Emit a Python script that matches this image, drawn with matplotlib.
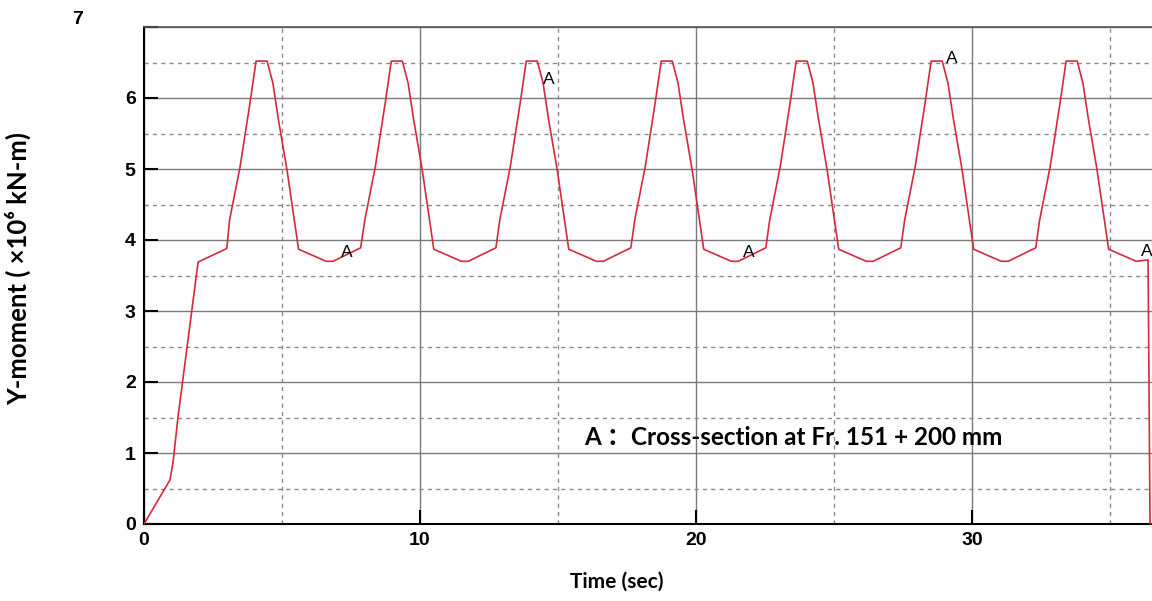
import matplotlib
matplotlib.use("Agg")
import matplotlib.pyplot as plt

# Time history of the Y-moment (x 10^6 kN-m) at the cross-section
time_sec = [
    0.00, 0.94, 1.05, 1.23, 1.96, 3.00,
    3.10, 3.48, 3.84, 4.06, 4.46, 4.67, 4.86, 5.18, 5.60, 6.60, 6.85, 7.85,
    8.00, 8.38, 8.74, 8.96, 9.36, 9.57, 9.76, 10.08, 10.50, 11.50, 11.75, 12.75,
    12.89, 13.27, 13.63, 13.85, 14.25, 14.46, 14.65, 14.97, 15.39, 16.39, 16.64, 17.64,
    17.78, 18.16, 18.52, 18.74, 19.14, 19.35, 19.54, 19.86, 20.28, 21.28, 21.53, 22.53,
    22.67, 23.05, 23.41, 23.63, 24.03, 24.24, 24.43, 24.75, 25.17, 26.17, 26.42, 27.42,
    27.56, 27.94, 28.30, 28.52, 28.92, 29.13, 29.32, 29.64, 30.06, 31.06, 31.31, 32.31,
    32.45, 32.83, 33.19, 33.41, 33.81, 34.02, 34.21, 34.53, 34.95, 35.95, 36.38, 36.45,
]
y_moment = [
    0.00, 0.62, 0.86, 1.50, 3.69, 3.88,
    4.28, 5.03, 5.93, 6.52, 6.52, 6.21, 5.72, 4.99, 3.87, 3.70, 3.70, 3.89,
    4.28, 5.03, 5.93, 6.52, 6.52, 6.21, 5.72, 4.99, 3.87, 3.70, 3.70, 3.89,
    4.28, 5.03, 5.93, 6.52, 6.52, 6.21, 5.72, 4.99, 3.87, 3.70, 3.70, 3.89,
    4.28, 5.03, 5.93, 6.52, 6.52, 6.21, 5.72, 4.99, 3.87, 3.70, 3.70, 3.89,
    4.28, 5.03, 5.93, 6.52, 6.52, 6.21, 5.72, 4.99, 3.87, 3.70, 3.70, 3.89,
    4.28, 5.03, 5.93, 6.52, 6.52, 6.21, 5.72, 4.99, 3.87, 3.70, 3.70, 3.89,
    4.28, 5.03, 5.93, 6.52, 6.52, 6.21, 5.72, 4.99, 3.87, 3.70, 3.72, 0.00,
]

# Positions of the "A" markers (time, moment)
marker_t = [7.15, 14.45, 21.70, 29.05, 36.12]
marker_y = [3.83, 6.26, 3.83, 6.55, 3.84]

x_major = [0, 10, 20, 30]
x_minor = [5, 15, 25, 35]
y_major = [0, 1, 2, 3, 4, 5, 6, 7]
y_major_labels = ["0", "1", "2", "3", "4", "5", "6", ""]
y_minor = [0.5, 1.5, 2.5, 3.5, 4.5, 5.5, 6.5]

fig = plt.figure(figsize=(11.52, 6.01), dpi=100)
ax = fig.add_axes([144 / 1152, 1 - 524 / 601, 1008 / 1152, 497 / 601])

ax.plot(time_sec, y_moment, color="#d42a3c", lw=1.2, zorder=3)

ax.set_xlim(0, 1008 / 27.6)
ax.set_ylim(0, 7)

ax.set_xticks(x_major)
ax.set_xticks(x_minor, minor=True)
ax.set_yticks(y_major)
ax.set_yticklabels(y_major_labels)
ax.set_yticks(y_minor, minor=True)

ax.grid(which="major", color="#7a7a7a", lw=1.0, ls="-", zorder=1)
ax.grid(which="minor", color="#8a8a8a", lw=1.0, ls=(0, (3, 3)), zorder=1)

ax.tick_params(which="major", direction="in", length=10, width=1.5, color="black",
               labelsize=14, pad=6)
ax.tick_params(which="minor", direction="in", length=0)
for lab in ax.get_xticklabels() + ax.get_yticklabels():
    lab.set_fontfamily("Liberation Sans")
    lab.set_fontweight("bold")

for side in ("left", "bottom"):
    ax.spines[side].set_color("black")
    ax.spines[side].set_linewidth(1.5)
ax.spines["top"].set_color("#555555")
ax.spines["top"].set_linewidth(1.2)
ax.spines["right"].set_visible(False)

for t, v in zip(marker_t, marker_y):
    ax.text(t, v, "A", fontsize=12.5, family="Liberation Sans", color="black",
            ha="left", va="center", zorder=4, clip_on=False)

ax.text(15.95, 1.22, "A \uff1aCross-section at Fr. 151 + 200 mm",
        fontsize=17.5, fontweight="bold", family=["Lato", "Noto Sans CJK SC"],
        ha="left", va="center", zorder=4)

fig.text(617 / 1152, 1 - 582 / 601, "Time (sec)", fontsize=15, fontweight="bold",
         family=["Lato", "DejaVu Sans"], ha="center", va="center")
fig.text(18 / 1152, 1 - 268 / 601, "Y-moment ( \u00d710\u2076 kN-m)", fontsize=18.5,
         fontweight="bold", family=["Lato", "DejaVu Sans"], rotation=90,
         ha="center", va="center")
fig.text(78 / 1152, 1 - 20 / 601, "7", fontsize=14, fontweight="bold",
         family="Liberation Sans", ha="center", va="center")

fig.savefig("out.png", dpi=100, facecolor="white")
